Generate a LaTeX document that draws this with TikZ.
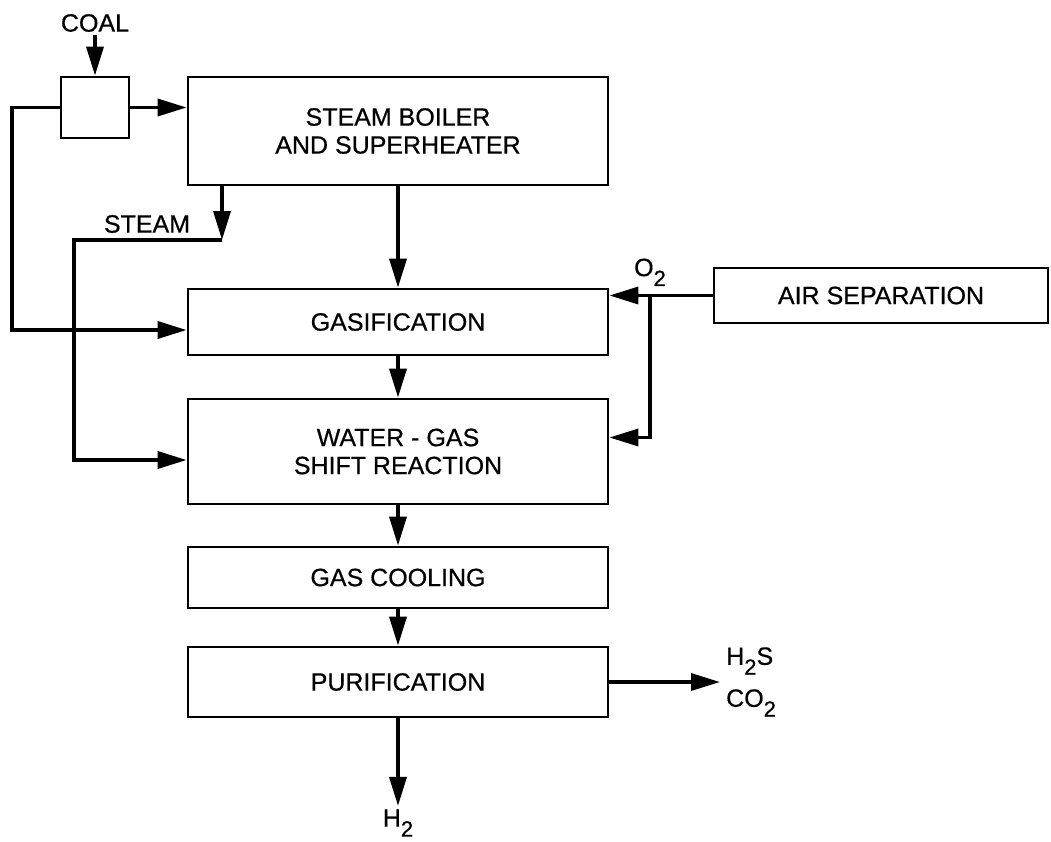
\documentclass[tikz,border=0pt]{standalone}
\usepackage{fontspec}
\setmainfont{Liberation Sans}[FakeBold=0.6]
\usetikzlibrary{arrows.meta,positioning}
\newcommand\chemsub[1]{\raisebox{-0.75ex}{\fontsize{22pt}{22pt}\selectfont #1}}

\begin{document}
\begin{tikzpicture}[
  x=1pt,y=-1pt,
  >={Triangle[length=29pt,width=17pt]},
  every node/.style={font=\fontsize{25pt}{28pt}\selectfont},
  unit/.style={draw,line width=2.8pt,minimum width=420pt,inner sep=0pt,
               align=center},
  flow/.style={draw,line width=3.5pt,->}
]
\useasboundingbox (0,0) rectangle (1051,841);

% process units
\node[unit,minimum width=68pt,minimum height=61pt] (feeder) at (95,107.5) {};
\node[unit,minimum height=108pt] (boiler)  at (398,131)   {STEAM BOILER\\AND SUPERHEATER};
\node[unit,minimum height=66pt]  (gasif)   at (398,322)   {GASIFICATION};
\node[unit,minimum height=105pt] (shift)   at (398,451.5) {WATER - GAS\\SHIFT REACTION};
\node[unit,minimum height=61pt]  (cooling) at (398,577.5) {GAS COOLING};
\node[unit,minimum height=70pt]  (purif)   at (398,682)   {PURIFICATION};
\node[unit,minimum width=334pt,minimum height=55pt] (airsep) at (881,295.5) {AIR SEPARATION};

% stream labels
\node (coal)     at (95,23)   {COAL};
\node (steamlbl) at (147,224) {STEAM};
\node (h2)       at (398,823) {H\chemsub{2}};
\node[align=left,anchor=west,inner sep=6pt,
      font=\fontsize{25pt}{42pt}\selectfont] (acidgas) at (720,682) {H\chemsub{2}S\\CO\chemsub{2}};

% bend points
\coordinate (coalloop)  at (12,330);
\coordinate (steamtap)  at (222,240);
\coordinate (steambend) at (74,460);
\coordinate (o2split)   at (650,295.5);
\node[above=6pt of o2split] (o2lbl) {O\chemsub{2}};

% coal and steam feeds
\draw[flow] (coal) -- (feeder);
\draw[flow] (feeder.east) -- (feeder.east -| boiler.west);
\draw[flow] (feeder.west) -| (coalloop) -- (coalloop -| gasif.west);
\draw[flow] (boiler.south -| steamtap) -- (steamtap);
\draw[flow] (steamtap) -| (steambend) -- (steambend -| shift.west);

% main train
\draw[flow] (boiler)  -- (gasif);
\draw[flow] (gasif)   -- (shift);
\draw[flow] (shift)   -- (cooling);
\draw[flow] (cooling) -- (purif);
\draw[flow] (purif)   -- (h2);
\draw[flow] (purif)   -- (purif -| acidgas.west);

% oxygen
\draw[flow] (airsep.west) -- (airsep.west -| gasif.east);
\draw[flow] (o2split) |- ([yshift=14pt]shift.east);
\end{tikzpicture}
\end{document}
